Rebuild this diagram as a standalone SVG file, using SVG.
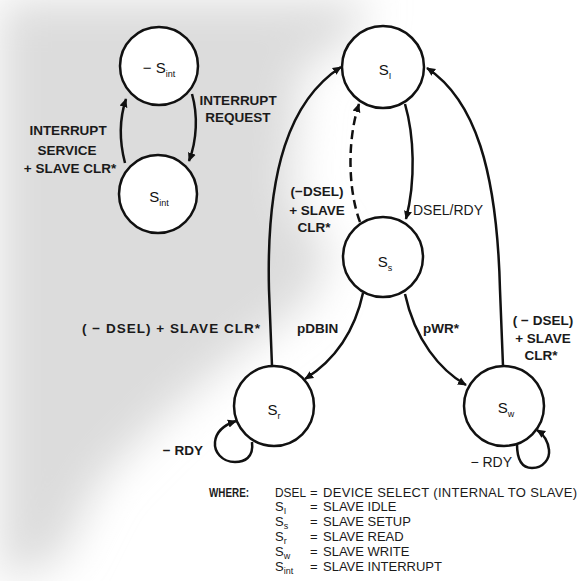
<svg xmlns="http://www.w3.org/2000/svg" width="583" height="581" viewBox="0 0 583 581">
  <defs>
    <marker id="arrow" viewBox="0 0 10 10" refX="9" refY="5" markerWidth="9" markerHeight="9" markerUnits="userSpaceOnUse" orient="auto">
      <path d="M0,0.5 L10,5 L0,9.5 z" fill="#111"/>
    </marker>
    <filter id="soft" x="-20%" y="-20%" width="140%" height="140%">
      <feGaussianBlur stdDeviation="22"/>
    </filter>
  </defs>
  <style>
    .node circle { fill: #fff; stroke: #111; stroke-width: 2.5; }
    .node text { font-family: "Liberation Sans", Arial, sans-serif; font-size: 15px; fill: #111; text-anchor: middle; }
    .sub { font-size: 9px; }
    .edge { fill: none; stroke: #111; stroke-width: 2.5; marker-end: url(#arrow); }
    .dashed { stroke-dasharray: 9 5; }
    .lbl { font-family: "Liberation Sans", Arial, sans-serif; font-size: 13.5px; font-weight: bold; fill: #1a1a1a; }
    .lgd { font-family: "Liberation Sans", Arial, sans-serif; font-size: 13px; fill: #1a1a1a; }
    .mid { text-anchor: middle; }
    .end { text-anchor: end; }
  </style>

  <rect width="583" height="581" fill="#fff"/>
  <path d="M0,0 L370,0 L350,40 L300,70 L290,200 L330,250 L310,300 L230,360 L160,420 L100,480 L60,560 L0,581 Z" fill="#dcdcdc" filter="url(#soft)"/>

  <g id="connectors">
    <path class="edge" d="M125,163 C119,140 119,120 126,99"/>
    <path class="edge" d="M192,94 C198,115 197,140 189,161"/>
    <path class="edge" d="M405,104 C414,135 416,180 406,219"/>
    <path class="edge dashed" d="M360,222 C348,190 347,140 359,104"/>
    <path class="edge" d="M272,366 L269,290 C266,170 290,100 341,67"/>
    <path class="edge" d="M503,366 L500,290 C497,170 475,100 427,68"/>
    <path class="edge" d="M363,293 C355,330 335,360 305,379"/>
    <path class="edge" d="M405,294 C415,340 440,370 466,385"/>
    <path class="edge" d="M252,442 C254,458 244,462 235,462 C222,462 214,452 215,442 C216,432 224,425 236,421"/>
    <path class="edge" d="M517,444 C517,460 522,468 532,468 C544,468 550,458 549,450 C548,440 543,434 537,430"/>
  </g>

  <g id="edge-labels">
    <text class="lbl mid" x="68" y="135">INTERRUPT</text>
    <text class="lbl mid" x="67" y="155">SERVICE</text>
    <text class="lbl mid" x="70" y="173">+ SLAVE CLR*</text>
    <text class="lbl mid" x="238" y="105">INTERRUPT</text>
    <text class="lbl mid" x="238" y="122">REQUEST</text>
    <text class="lbl mid" x="317" y="196">(−DSEL)</text>
    <text class="lbl mid" x="317" y="215">+ SLAVE</text>
    <text class="lbl mid" x="314" y="232">CLR*</text>
    <text class="lbl" x="413" y="215" style="font-weight:normal;font-size:14px">DSEL/RDY</text>
    <text class="lbl" x="82" y="333" textLength="178">( − DSEL) + SLAVE CLR*</text>
    <text class="lbl" x="297" y="333">pDBIN</text>
    <text class="lbl" x="423" y="333">pWR*</text>
    <text class="lbl mid" x="543" y="325">( − DSEL)</text>
    <text class="lbl mid" x="543" y="343">+ SLAVE</text>
    <text class="lbl mid" x="541" y="360">CLR*</text>
    <text class="lbl end" x="203" y="455">− RDY</text>
    <text class="lbl end" x="512" y="467" style="font-weight:normal;font-size:14px">− RDY</text>
  </g>

  <g id="node-notint" class="node">
    <circle cx="159" cy="66" r="39"/>
    <text x="159" y="73">− S<tspan class="sub" dy="4">int</tspan></text>
  </g>
  <g id="node-sint" class="node">
    <circle cx="158" cy="194" r="39"/>
    <text x="159" y="202">S<tspan class="sub" dy="4">int</tspan></text>
  </g>
  <g id="node-si" class="node">
    <circle cx="383" cy="67" r="41"/>
    <text x="385" y="75">S<tspan class="sub" dy="4">I</tspan></text>
  </g>
  <g id="node-ss" class="node">
    <circle cx="383" cy="257" r="40"/>
    <text x="385" y="267">S<tspan class="sub" dy="4">s</tspan></text>
  </g>
  <g id="node-sr" class="node">
    <circle cx="274" cy="406" r="40"/>
    <text x="274" y="415">S<tspan class="sub" dy="4">r</tspan></text>
  </g>
  <g id="node-sw" class="node">
    <circle cx="504" cy="406" r="40"/>
    <text x="506" y="413">S<tspan class="sub" dy="4">w</tspan></text>
  </g>

  <g id="legend">
    <text class="lgd" x="209" y="497" style="font-weight:bold" textLength="40" lengthAdjust="spacingAndGlyphs">WHERE:</text>
    <text class="lgd" x="275" y="497" textLength="31" lengthAdjust="spacingAndGlyphs">DSEL</text>
    <text class="lgd" x="310" y="497">=</text>
    <text class="lgd" x="323" y="497" textLength="254">DEVICE SELECT (INTERNAL TO SLAVE)</text>
    <text class="lgd" x="275" y="511">S<tspan class="sub" dy="3">I</tspan></text>
    <text class="lgd" x="310" y="511">=</text>
    <text class="lgd" x="323" y="511">SLAVE IDLE</text>
    <text class="lgd" x="275" y="526">S<tspan class="sub" dy="3">s</tspan></text>
    <text class="lgd" x="310" y="526">=</text>
    <text class="lgd" x="323" y="526">SLAVE SETUP</text>
    <text class="lgd" x="275" y="541">S<tspan class="sub" dy="3">r</tspan></text>
    <text class="lgd" x="310" y="541">=</text>
    <text class="lgd" x="323" y="541">SLAVE READ</text>
    <text class="lgd" x="275" y="556">S<tspan class="sub" dy="3">w</tspan></text>
    <text class="lgd" x="310" y="556">=</text>
    <text class="lgd" x="323" y="556">SLAVE WRITE</text>
    <text class="lgd" x="275" y="571">S<tspan class="sub" dy="3">int</tspan></text>
    <text class="lgd" x="310" y="571">=</text>
    <text class="lgd" x="323" y="571">SLAVE INTERRUPT</text>
  </g>
</svg>
